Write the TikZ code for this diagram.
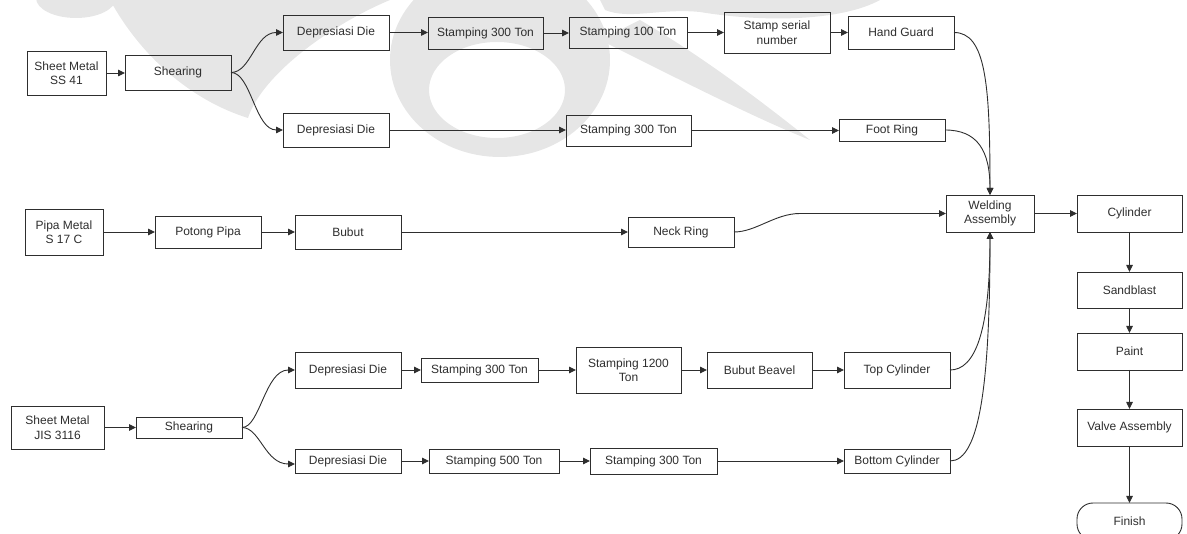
\documentclass[tikz,border=0pt]{standalone}
\usepackage{fontspec}
\setmainfont{Liberation Sans}
\usetikzlibrary{arrows.meta,calc}
\definecolor{ink}{HTML}{2E2E2E}
\definecolor{emblemgray}{HTML}{E6E6E6}
\tikzset{
  box/.style={draw=ink, line width=0.9pt, inner sep=1pt, outer sep=0pt,
    align=center, text=ink, font=\fontsize{12}{14.5}\selectfont},
  flow/.style={draw=ink, line width=0.9pt, -{Triangle[length=7pt,width=6.5pt]}},
  emblem/.style={fill=emblemgray, draw=none},
}
\begin{document}
\begin{tikzpicture}[x=1pt,y=-1pt]
\useasboundingbox (0,0) rectangle (1187,534);

% faint background emblem
\path[emblem] (76,-2) ellipse [x radius=40, y radius=20];
\path[emblem] (110,0) .. controls (140,55) and (190,100) .. (248,118)
  .. controls (262,75) and (330,25) .. (390,0) -- cycle;
\path[emblem, even odd rule] (500,60) ellipse [x radius=110, y radius=97]
  (497,90) ellipse [x radius=68, y radius=48];
\path[emblem] (600,40) .. controls (700,90) and (760,120) .. (810,140)
  .. controls (760,100) and (700,55) .. (640,20) -- cycle;
\path[emblem] (600,0) -- (880,0) .. controls (840,22) and (760,22) .. (700,12)
  .. controls (660,8) and (630,20) .. (605,10) -- cycle;

% row 1
\node[box, minimum width=79pt, minimum height=44pt] (ss) at (66.5,73) {Sheet Metal\\SS 41};
\node[box, minimum width=106pt, minimum height=35pt] (sh1) at (178,72.5) {Shearing};
\node[box, minimum width=106pt, minimum height=35pt] (dd1) at (336,32.5) {Depresiasi Die};
\node[box, minimum width=115pt, minimum height=32pt] (st1) at (485.5,33) {Stamping 300 Ton};
\node[box, minimum width=118pt, minimum height=31pt] (st2) at (628,32.5) {Stamping 100 Ton};
\node[box, minimum width=106pt, minimum height=41pt] (ssn) at (777,32.5) {Stamp serial\\number};
\node[box, minimum width=106pt, minimum height=33pt] (hg) at (901,32.5) {Hand Guard};

% row 2
\node[box, minimum width=106pt, minimum height=34pt] (dd2) at (336,130) {Depresiasi Die};
\node[box, minimum width=125pt, minimum height=31pt] (st3) at (628.5,130.5) {Stamping 300 Ton};
\node[box, minimum width=106pt, minimum height=22pt] (fr) at (892,130) {Foot Ring};

% row 3 and final line
\node[box, minimum width=78pt, minimum height=46pt] (pipa) at (64,232) {Pipa Metal\\S 17 C};
\node[box, minimum width=106pt, minimum height=32pt] (pot) at (208,232) {Potong Pipa};
\node[box, minimum width=106pt, minimum height=34pt] (bub) at (348,232) {Bubut};
\node[box, minimum width=106pt, minimum height=30pt] (neck) at (681,232) {Neck Ring};
\node[box, minimum width=88pt, minimum height=37pt] (weld) at (990,213.5) {Welding\\Assembly};
\node[box, minimum width=105pt, minimum height=37pt] (cyl) at (1129.5,213.5) {Cylinder};
\node[box, minimum width=105pt, minimum height=36pt] (sand) at (1129.5,290) {Sandblast};
\node[box, minimum width=105pt, minimum height=37pt] (paint) at (1129.5,351.5) {Paint};
\node[box, minimum width=105pt, minimum height=37pt] (valve) at (1129.5,427.5) {Valve Assembly};
\node[box, rounded corners=16pt, minimum width=105pt, minimum height=37pt] (fin) at (1129.5,521.5) {Finish};

% row 4
\node[box, minimum width=93pt, minimum height=43pt] (jis) at (57.5,427.5) {Sheet Metal\\JIS 3116};
\node[box, minimum width=106pt, minimum height=21pt] (sh2) at (189,427.5) {Shearing};
\node[box, minimum width=106pt, minimum height=36pt] (dd4) at (348,370) {Depresiasi Die};
\node[box, minimum width=117pt, minimum height=24pt] (st4) at (479.5,370) {Stamping 300 Ton};
\node[box, minimum width=105pt, minimum height=46pt] (st5) at (628.5,370) {Stamping 1200\\Ton};
\node[box, minimum width=105pt, minimum height=36pt] (bb) at (759.5,370) {Bubut Beavel};
\node[box, minimum width=106pt, minimum height=36pt] (tc) at (897,370) {Top Cylinder};

% row 5
\node[box, minimum width=106pt, minimum height=24pt] (dd5) at (348,461) {Depresiasi Die};
\node[box, minimum width=130pt, minimum height=24pt] (st6) at (494,461) {Stamping 500 Ton};
\node[box, minimum width=127pt, minimum height=26pt] (st7) at (653.5,461) {Stamping 300 Ton};
\node[box, minimum width=106pt, minimum height=24pt] (bc) at (897,461) {Bottom Cylinder};

% connectors, row 1 and 2
\draw[flow] (ss.east) -- (ss.east -| sh1.west);
\draw[flow] (sh1.east) .. controls +(20,0) and +(-28,0) .. (dd1.west);
\draw[flow] (sh1.east) .. controls +(20,0) and +(-28,0) .. (dd2.west);
\draw[flow] (dd1.east) -- (dd1.east -| st1.west);
\draw[flow] (st1.east) -- (st1.east -| st2.west);
\draw[flow] (st2.east) -- (st2.east -| ssn.west);
\draw[flow] (ssn.east) -- (ssn.east -| hg.west);
\draw[flow] (dd2.east) -- (dd2.east -| st3.west);
\draw[flow] (st3.east) -- (st3.east -| fr.west);

% connectors, row 3
\draw[flow] (pipa.east) -- (pipa.east -| pot.west);
\draw[flow] (pot.east) -- (pot.east -| bub.west);
\draw[flow] (bub.east) -- (bub.east -| neck.west);

% connectors, rows 4 and 5
\draw[flow] (jis.east) -- (jis.east -| sh2.west);
\draw[flow] (sh2.east) .. controls +(18,0) and +(-30,0) .. (dd4.west);
\draw[flow] (sh2.east) .. controls +(18,0) and +(-30,0) .. ([yshift=-3pt]dd5.west);
\draw[flow] (dd4.east) -- (dd4.east -| st4.west);
\draw[flow] (st4.east) -- (st4.east -| st5.west);
\draw[flow] (st5.east) -- (st5.east -| bb.west);
\draw[flow] (bb.east) -- (bb.east -| tc.west);
\draw[flow] (dd5.east) -- (dd5.east -| st6.west);
\draw[flow] (st6.east) -- (st6.east -| st7.west);
\draw[flow] (st7.east) -- (st7.east -| bc.west);

% parts into welding
\draw[flow] (hg.east) .. controls +(32,0) and +(0,-110) .. (weld.north);
\draw[flow] (fr.east) .. controls +(32,0) and +(0,-45) .. (weld.north);
\draw[flow] (neck.east) .. controls +(22,0) and +(-25,0) .. ($(weld.west)+(-146,0)$) -- (weld.west);
\draw[flow] (tc.east) .. controls +(25,0) and +(0,100) .. (weld.south);
\draw[flow] (bc.east) .. controls +(30,0) and +(0,150) .. (weld.south);

% finishing line
\draw[flow] (weld.east) -- (cyl.west);
\draw[flow] (cyl.south) -- (sand.north);
\draw[flow] (sand.south) -- (paint.north);
\draw[flow] (paint.south) -- (valve.north);
\draw[flow] (valve.south) -- (fin.north);
\end{tikzpicture}
\end{document}
